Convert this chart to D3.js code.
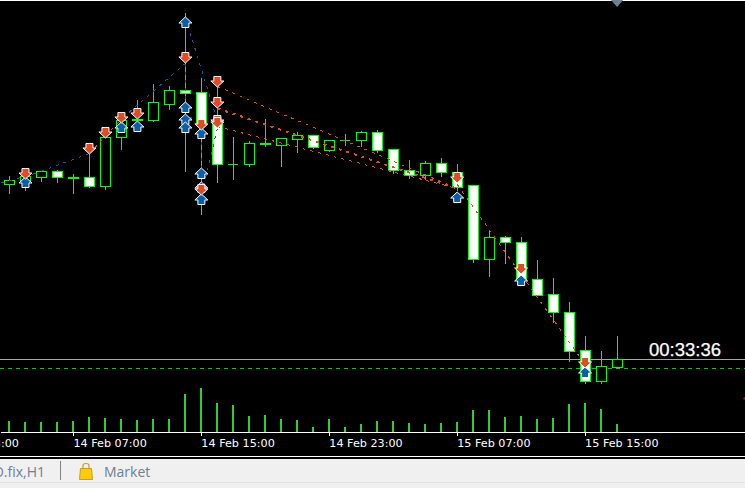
<!DOCTYPE html>
<html>
<head>
<meta charset="utf-8">
<script src="https://cdn.jsdelivr.net/npm/d3@7"></script>
<style>
  html, body { margin: 0; padding: 0; background: #000; overflow: hidden; }
  svg { display: block; }
</style>
</head>
<body>
<div id="chart"></div>
<script>
// H1 candles, index 0 = 14 Feb 03:00. Prices are points above an arbitrary base, no price axis visible
const opens  = [176,178,183,189,183,183,174,223,240,240,256,270,268,236,196,196,216,215,221,225,210,220,220,228,211,190,185,197,188,175,101,123,118,81,66,48,10,-21,-7]
const closes = [180,184,189,183,182,174,223,240,241,258,270,267,237,196,196,217,217,222,225,213,220,220,228,210,190,185,197,188,173,101,123,118,81,65,48,9,-21,-6,1]
const highs  = [185,190,190,191,187,207,233,247,261,277,275,348,283,275,224,220,242,222,229,226,221,227,230,231,212,201,200,203,197,175,131,125,124,101,83,59,25,10,25]
const lows   = [167,170,179,178,167,173,171,211,230,239,251,189,146,178,181,194,214,194,208,212,209,215,214,208,187,182,181,184,170,98,84,97,75,65,38,-1,-23,-23,-8]
const volumes = [11,10,10,10,11,15,14,13,12,13,13,38,44,29,27,16,17,13,12,5,13,5,8,11,11,9,8,9,10,22,22,15,16,13,14,28,29,23,8]

// arrow markers, price is where the tip points
const buyBars    = [1,7,8,11,11,11,11,12,12,12,12,28,32,36]
const buyPrices  = [183,238,239,343,258,246,238,232,192,178,166,168,85,-7]
const sellBars   = [1,5,6,7,8,11,12,12,13,13,13,13,28,32,36]
const sellPrices = [182,207,223,238,242,298,231,166,274,253,235,233,178,87,-7]

// dotted trade lines
const lineFromBar   = [-0.5,1.5,5,7.1,11,11,11,12,13,13,13,13,28]
const lineFromPrice = [177.5,186.5,207,243,343,297,250,227,232,274,252,234,176]
const lineToBar     = [1.5,5,7.1,11,13,11,12,12,12,28,28,28,36]
const lineToPrice   = [186.5,207,243,297,240,250,230,165,165,172,172,172,-4]
const lineKind      = ["buy","buy","sell","buy","buy","buy","buy","buy","buy","sell","sellBold","sell","sell"]

const bidPrice = 1
const askPrice = -8
const timerText = "00:33:36"

const tickBars   = [-4,4,12,20,28,36]
const tickLabels = ["13 Feb 23:00","14 Feb 07:00","14 Feb 15:00","14 Feb 23:00","15 Feb 07:00","15 Feb 15:00"]

const width = 745
const height = 488

const GREEN = "#00ff00"
const VOLUME_GREEN = "#32cd32"
const RED = "#e04a26"
const BLUE = "#0a5fa8"

const svg = d3.select("#chart")
    .append("svg")
    .attr("width", width)
    .attr("height", height)
    .style("background", "#000")

/* SCALES */
const x = d3.scaleLinear().domain([-0.59375, 46]).range([0, width])
const y = d3.scaleLinear().domain([0, 360]).range([360.5, 0.5])
const yVol = d3.scaleLinear().domain([0, 50]).range([432, 382])

const chart = svg.append("g").attr("shape-rendering", "crispEdges")

// top border of the chart window
chart.append("rect")
    .attr("width", width).attr("height", 1)
    .attr("fill", "#fff")

// scroll marker at the top
svg.append("path")
    .attr("d", d3.line()([[x(38) - 6, 0], [x(38) + 6, 0], [x(38), 7]]))
    .attr("fill", "#708090")

/* PRICE LINES */
chart.append("line")
    .attr("x1", 0).attr("x2", width)
    .attr("y1", y(bidPrice)).attr("y2", y(bidPrice))
    .attr("stroke", "#a8a8a8")

chart.append("line")
    .attr("x1", 0).attr("x2", width)
    .attr("y1", y(askPrice)).attr("y2", y(askPrice))
    .attr("stroke", "#00d000")
    .attr("stroke-dasharray", "4,4")

/* VOLUME */
chart.selectAll(".vol")
    .data(volumes)
    .enter()
    .append("rect")
    .attr("class", "vol")
    .attr("x", (d, i) => x(i) - 1.5)
    .attr("width", 2)
    .attr("y", d => yVol(d))
    .attr("height", d => yVol(0) - yVol(d))
    .attr("fill", VOLUME_GREEN)

/* CANDLES */
const candles = chart.selectAll(".candle")
    .data(opens)
    .enter()
    .append("g")
    .attr("class", "candle")

candles.append("line")
    .attr("x1", (d, i) => x(i))
    .attr("x2", (d, i) => x(i))
    .attr("y1", (d, i) => y(highs[i]))
    .attr("y2", (d, i) => y(lows[i]))
    .attr("stroke", GREEN)

candles.append("path")
    .attr("d", (d, i) => {
        const p = d3.path()
        p.moveTo(x(i) - 5, y(d))
        p.lineTo(x(i) + 5, y(d))
        p.lineTo(x(i) + 5, y(closes[i]))
        p.lineTo(x(i) - 5, y(closes[i]))
        p.closePath()
        return p.toString()
    })
    .attr("fill", (d, i) => closes[i] < d ? "#fff" : "#000")
    .attr("stroke", GREEN)

/* TRADE LINES */
chart.selectAll(".trade")
    .data(lineKind)
    .enter()
    .append("line")
    .attr("class", "trade")
    .attr("x1", (d, i) => x(lineFromBar[i]))
    .attr("y1", (d, i) => y(lineFromPrice[i]))
    .attr("x2", (d, i) => x(lineToBar[i]))
    .attr("y2", (d, i) => y(lineToPrice[i]))
    .attr("stroke", d => d === "buy" ? BLUE : RED)
    .attr("stroke-width", d => d === "sellBold" ? 2 : 1)
    .attr("stroke-dasharray", "3,5")

/* ARROWS */
const downArrow = [[0,0.5],[-6.5,-5.5],[-3.5,-5.5],[-3.5,-10],[3.5,-10],[3.5,-5.5],[6.5,-5.5]]
const upArrow = downArrow.map(p => [p[0], -p[1]])
const arrowPath = d3.line().curve(d3.curveLinearClosed)

const arrows = svg.append("g")

arrows.selectAll(".buy")
    .data(buyBars)
    .enter()
    .append("path")
    .attr("class", "buy")
    .attr("d", arrowPath(upArrow))
    .attr("transform", (d, i) => `translate(${x(d)}, ${y(buyPrices[i])})`)
    .attr("fill", BLUE)
    .attr("stroke", "#fff")

arrows.selectAll(".sell")
    .data(sellBars)
    .enter()
    .append("path")
    .attr("class", "sell")
    .attr("d", arrowPath(downArrow))
    .attr("transform", (d, i) => `translate(${x(d)}, ${y(sellPrices[i])})`)
    .attr("fill", RED)
    .attr("stroke", "#fff")

/* TIMER */
svg.append("text")
    .attr("x", 721)
    .attr("y", y(bidPrice) - 4)
    .attr("text-anchor", "end")
    .attr("font-family", "Liberation Sans, sans-serif")
    .attr("font-size", 18.5)
    .attr("stroke", "#fff")
    .attr("stroke-width", 0.25)
    .attr("fill", "#fff")
    .text(timerText)

/* X AXIS */
const xAxis = svg.append("g")
    .attr("transform", "translate(0, 432)")
    .call(
        d3.axisBottom(x)
        .tickValues(tickBars)
        .tickFormat((d, i) => tickLabels[i])
        .tickSize(4)
        .tickSizeOuter(0)
    )

xAxis.selectAll("path, line")
    .attr("stroke", "#fff")
    .attr("shape-rendering", "crispEdges")

xAxis.selectAll("text")
    .attr("text-anchor", "start")
    .attr("x", -0.5)
    .attr("y", 7)
    .attr("fill", "#fff")
    .attr("font-family", "DejaVu Sans, sans-serif")
    .attr("font-size", 11.2)

/* WINDOW TABS */
const tabs = svg.append("g")

tabs.append("rect").attr("y", 456).attr("width", width).attr("height", 1).attr("fill", "#fff")
tabs.append("rect").attr("y", 459).attr("width", width).attr("height", 29).attr("fill", "#f0f0f0")
tabs.append("rect").attr("y", 482).attr("width", width).attr("height", 1).attr("fill", "#e2e2e2")
tabs.append("rect").attr("x", 60).attr("y", 461).attr("width", 1).attr("height", 19).attr("fill", "#808080")

tabs.append("text")
    .attr("x", 45)
    .attr("y", 477)
    .attr("text-anchor", "end")
    .attr("font-family", "Open Sans, sans-serif")
    .attr("font-size", 14)
    .attr("fill", "#6f7f92")
    .text("D.fix,H1")

tabs.append("text")
    .attr("x", 104)
    .attr("y", 477)
    .attr("font-family", "Open Sans, sans-serif")
    .attr("font-size", 14)
    .attr("fill", "#6f7f92")
    .text("Market")

// shopping bag icon
tabs.append("path")
    .attr("d", "M80.5 468.5H91.5L92.5 479.5H79.5Z")
    .attr("fill", "#ffcc00")
    .attr("stroke", "#c99a2e")
tabs.append("path")
    .attr("d", "M83 468V465.5Q83 463.5 86 463.5Q89 463.5 89 465.5V468")
    .attr("fill", "none")
    .attr("stroke", "#c99a2e")
    .attr("stroke-width", 1.2)

// stray red pixel at the right edge
svg.append("rect")
    .attr("x", x(45.9))
    .attr("y", y(-37))
    .attr("width", 2)
    .attr("height", 2)
    .attr("fill", "#d01010")
</script>
</body>
</html>
